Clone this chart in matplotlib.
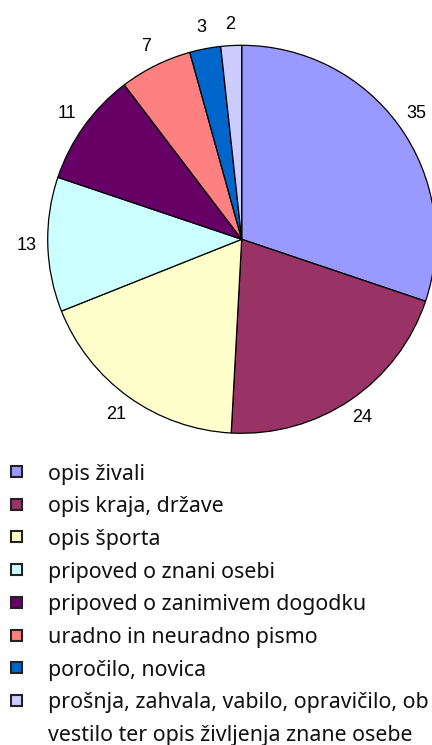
import matplotlib.pyplot as plt
from matplotlib.patches import Rectangle

# data
categories = [
    'opis živali',
    'opis kraja, države',
    'opis športa',
    'pripoved o znani osebi',
    'pripoved o zanimivem dogodku',
    'uradno in neuradno pismo',
    'poročilo, novica',
    'prošnja, zahvala, vabilo, opravičilo, ob\nvestilo ter opis življenja znane osebe',
]
values = [35, 24, 21, 13, 11, 7, 3, 2]
colors = ['#9999FF', '#993366', '#FFFFCC', '#CCFFFF',
          '#660066', '#FF8080', '#0066CC', '#CCCCFF']

W, H = 432, 745
fig = plt.figure(figsize=(W / 100, H / 100), dpi=100)
ax = fig.add_axes([0, 0, 1, 1])

wedges, texts = ax.pie(values, labels=[str(v) for v in values], colors=colors,
                       startangle=90, counterclock=False, labeldistance=1.11,
                       wedgeprops=dict(edgecolor='black', linewidth=0.9),
                       textprops=dict(fontsize=13, family='Liberation Sans'))
for t in texts:
    t.set_ha('center')
    t.set_va('center')

# pie radius / centre in pixels
r_px, cx, cy = 194, 241.7, 239.3
ax.set_xlim(-cx / r_px, (W - cx) / r_px)
ax.set_ylim(-(H - cy) / r_px, cy / r_px)
ax.set_aspect('auto')

# legend below the pie
row0, dy = 471.5, 32.7
for i, (lab, col) in enumerate(zip(categories, colors)):
    yc = row0 + i * dy
    fig.patches.append(Rectangle((10.5 / W, 1 - (yc + 5.5) / H), 11 / W, 11 / H,
                                 transform=fig.transFigure, facecolor=col,
                                 edgecolor='#222222', linewidth=1.5))
    for j, line in enumerate(lab.split('\n')):
        fig.text(48 / W, 1 - (yc + j * dy) / H, line, fontsize=15.4,
                 family='Noto Sans', color='#111111', va='center_baseline')

plt.savefig('out.png', dpi=100)
